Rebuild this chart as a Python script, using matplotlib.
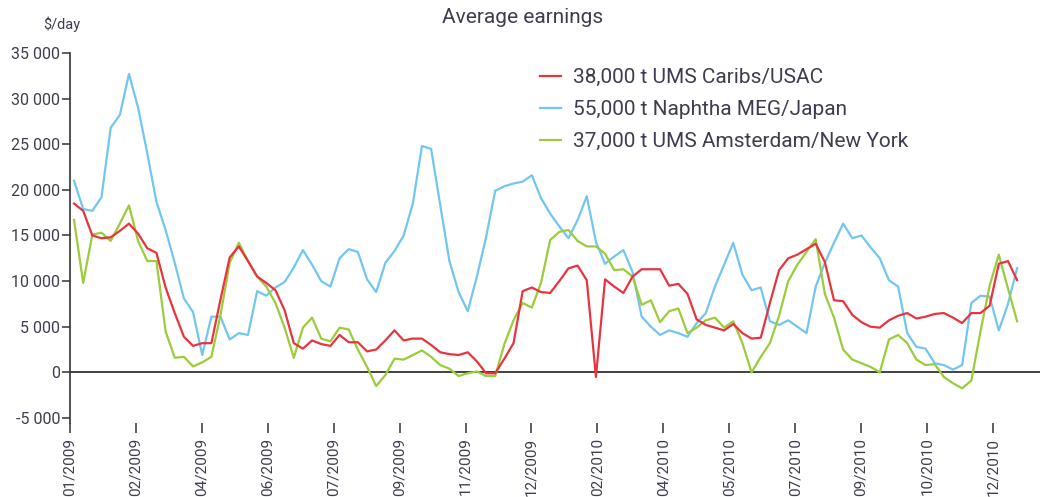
import numpy as np
import matplotlib
matplotlib.use("Agg")
import matplotlib.pyplot as plt
from matplotlib.ticker import FuncFormatter

# weekly average earnings, $/day
caribs_usac = [18500, 17700, 15000, 14700, 14800, 15500, 16300, 15200, 13600, 13100,
               9300, 6500, 3900, 2900, 3200, 3200, 8000, 12600, 13800, 12200,
               10500, 9800, 9000, 6800, 3200, 2600, 3500, 3100, 2900, 4100,
               3300, 3300, 2300, 2500, 3500, 4600, 3500, 3700, 3700, 3000,
               2200, 2000, 1900, 2200, 1200, -100, -100, 1500, 3200, 8900,
               9300, 8800, 8700, 10000, 11400, 11700, 10100, -500, 10200, 9400,
               8700, 10500, 11300, 11300, 11300, 9500, 9700, 8600, 5800, 5200,
               4900, 4600, 5300, 4300, 3700, 3800, 7600, 11200, 12500, 12900,
               13500, 14100, 12100, 7900, 7800, 6300, 5500, 5000, 4900, 5700,
               6200, 6500, 5900, 6100, 6400, 6500, 6000, 5400, 6500, 6500,
               7300, 11900, 12200, 10100]

naphtha_meg_japan = [21000, 17900, 17700, 19200, 26800, 28200, 32700, 29000, 24000, 18700,
                     15600, 12000, 8100, 6600, 1900, 6100, 6100, 3600, 4300, 4100,
                     8900, 8400, 9300, 9900, 11500, 13400, 11800, 10000, 9400, 12500,
                     13500, 13200, 10200, 8800, 12000, 13300, 15000, 18500, 24800, 24500,
                     18300, 12200, 8800, 6700, 10500, 14800, 19900, 20400, 20700, 20900,
                     21600, 19100, 17400, 16000, 14700, 16700, 19300, 14300, 11900, 12700,
                     13400, 11000, 6100, 5000, 4100, 4600, 4300, 3900, 5400, 6500,
                     9400, 11800, 14200, 10700, 9000, 9300, 5600, 5200, 5700, 5000,
                     4300, 9400, 12000, 14200, 16300, 14700, 15000, 13700, 12500, 10100,
                     9400, 4300, 2800, 2600, 1000, 800, 300, 800, 7600, 8400,
                     8300, 4600, 7500, 11400]

amsterdam_ny = [16700, 9800, 15100, 15300, 14400, 16300, 18300, 14400, 12200, 12200,
                4500, 1600, 1700, 650, 1100, 1700, 6300, 12000, 14200, 12200,
                10500, 9400, 7600, 4900, 1600, 4900, 6000, 3700, 3400, 4900,
                4700, 2500, 600, -1500, -300, 1500, 1400, 1900, 2400, 1700,
                800, 400, -400, -100, 100, -400, -400, 3100, 5700, 7600,
                7100, 9800, 14500, 15400, 15600, 14400, 13800, 13800, 13000, 11200,
                11300, 10500, 7400, 7900, 5500, 6700, 7000, 4300, 4900, 5700,
                6000, 4900, 5600, 3200, 0, 1700, 3200, 6200, 10000, 11800,
                13200, 14600, 8600, 6000, 2500, 1400, 1000, 600, 0, 3600,
                4100, 3200, 1400, 800, 900, -500, -1200, -1750, -900, 4500,
                9500, 12900, 9200, 5600]

series_names = ["38,000 t UMS Caribs/USAC",
                "55,000 t Naphtha MEG/Japan",
                "37,000 t UMS Amsterdam/New York"]

tick_labels = ["01/2009", "02/2009", "04/2009", "06/2009", "07/2009", "09/2009",
               "11/2009", "12/2009", "02/2010", "04/2010", "05/2010", "07/2010",
               "09/2010", "10/2010", "12/2010"]

plt.rcParams["font.family"] = ["Roboto", "DejaVu Sans"]
txt = "#3d3d50"

fig = plt.figure(figsize=(10.4, 4.97), dpi=100)
ax = fig.add_axes([70 / 1040, 1 - 423 / 497, 970 / 1040, 370 / 497])

weeks = np.arange(len(caribs_usac))
ax.plot(weeks, caribs_usac, color="#e8343e", lw=1.6, label=series_names[0], zorder=4)
ax.plot(weeks, naphtha_meg_japan, color="#72c6ef", lw=1.6, label=series_names[1], zorder=3)
ax.plot(weeks, amsterdam_ny, color="#9ccb3c", lw=1.6, label=series_names[2], zorder=3)
ax.axhline(0, color="#333333", lw=1.3, zorder=2)

ax.set_xlim(-0.44, 105.5)
ax.set_ylim(-5550, 35000)
ax.set_yticks(range(-5000, 35001, 5000))
ax.yaxis.set_major_formatter(FuncFormatter(lambda v, p: f"{int(v):,}".replace(",", " ")))

tick_pos = [-0.44 + 7.2 * k for k in range(len(tick_labels))]
ax.set_xticks(tick_pos)
ax.set_xticklabels(tick_labels, rotation=90)

for s in ["top", "right", "bottom"]:
    ax.spines[s].set_visible(False)
ax.spines["left"].set_color("#333333")
ax.spines["left"].set_linewidth(1.2)

ax.tick_params(axis="y", length=6, width=1.1, color="#333333", labelcolor=txt,
               labelsize=11.5, pad=1)
ax.tick_params(axis="x", length=7.5, width=1.1, color="#333333", labelcolor=txt,
               labelsize=11, pad=3)

fig.text(0.502, 1 - 23 / 497, "Average earnings", ha="center", va="baseline",
         fontsize=15, color=txt)
fig.text(43 / 1040, 1 - 29 / 497, "$/day", ha="left", va="baseline",
         fontsize=10.5, color=txt)

ax.legend(loc="upper left", bbox_to_anchor=(540 / 1040, 1 - 68 / 497),
          bbox_transform=fig.transFigure, frameon=False, fontsize=15,
          handlelength=1.0, handletextpad=0.6, labelspacing=0.62,
          borderpad=0, borderaxespad=0, labelcolor=txt)

fig.savefig("out.png", dpi=100)
